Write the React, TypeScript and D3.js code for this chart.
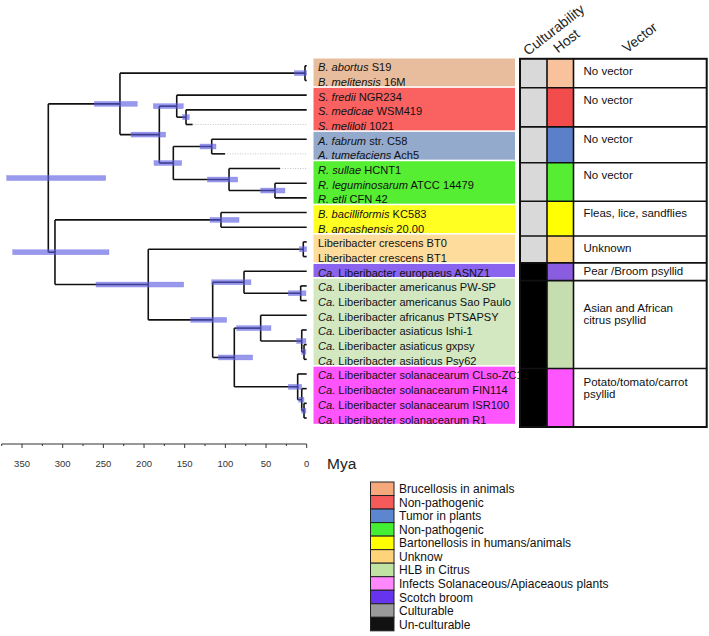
import React from "react";
import * as d3 from "d3";

// ---------- DATA ----------
const leafItalic = [
  "B. abortus", "B. melitensis", "S. fredii", "S. medicae", "S. meliloti",
  "A. fabrum", "A. tumefaciens", "R. sullae", "R. leguminosarum", "R. etli",
  "B. bacilliformis", "B. ancashensis", "", "", "Ca.", "Ca.", "Ca.", "Ca.",
  "Ca.", "Ca.", "Ca.", "Ca.", "Ca.", "Ca.", "Ca.",
];
const leafPlain = [
  " S19", " 16M", " NGR234", " WSM419", " 1021", " str. C58", " Ach5", " HCNT1",
  " ATCC 14479", " CFN 42", " KC583", " 20.00",
  "Liberibacter crescens BT0", "Liberibacter crescens BT1",
  " Liberibacter europaeus ASNZ1", " Liberibacter americanus PW-SP",
  " Liberibacter americanus Sao Paulo", " Liberibacter africanus PTSAPSY",
  " Liberibacter asiaticus Ishi-1", " Liberibacter asiaticus gxpsy",
  " Liberibacter asiaticus Psy62", " Liberibacter solanacearum CLso-ZC1",
  " Liberibacter solanacearum FIN114", " Liberibacter solanacearum ISR100",
  " Liberibacter solanacearum R1",
];
// tip ages (Mya); non-zero tips get a dotted extension
const tipAges = [0, 0, 0, 0, 140.2, 0, 100.5, 32.8, 0, 0, 0, 0, 0, 0, 0, 0, 0, 0, 0, 0, 0, 0, 0, 0, 0];

// internal nodes: id, children (leaf index or node id), age, 95% HPD
const nodeIds = ["root", "A", "Bru", "B", "C", "D", "E", "F", "G", "H", "N2", "Bart", "Lib", "Cres", "CaL", "EuAm", "Am", "AfAsSo", "AfAs", "As", "As2", "So", "So2", "So3"];
const nodeKids: (string | number)[][] = [
  ["A", "N2"], ["Bru", "B"], [0, 1], ["C", "E"], [2, "D"], [3, 4], ["F", "G"], [5, 6], [7, "H"], [8, 9],
  ["Bart", "Lib"], [10, 11], ["Cres", "CaL"], [12, 13], ["EuAm", "AfAsSo"], [14, "Am"], [15, 16],
  ["AfAs", "So"], [17, "As"], [18, "As2"], [19, 20], [21, "So2"], [22, "So3"], [23, 24],
];
const nodeAges = [317.7, 229.6, 2.1, 181.2, 159.8, 148.4, 164, 116.8, 95.5, 39, 309.5, 105.4, 194.8, 4.2, 115.6, 77.1, 7.4, 89, 56.6, 6.1, 3.3, 11.1, 6.1, 3.3];
const hpdLow = [247.1, 208.3, 0, 173.4, 151.7, 144.3, 153.7, 111.5, 84.8, 26.7, 243.1, 83.2, 151.2, 0, 98.4, 68.5, 0.9, 66.4, 43.9, 0.9, 0.9, 6.1, 3.3, 0.9];
const hpdHigh = [368.9, 261.2, 15.2, 216, 188.6, 152.5, 187.8, 131.2, 122.2, 56.6, 361.5, 118.9, 259.1, 9.1, 142.6, 116.8, 22.6, 108.7, 86.1, 12.3, 6.1, 22.6, 9.8, 6.1];

// groups of leaves
const groupFirst = [0, 2, 5, 7, 10, 12, 14, 15, 21];
const groupLast = [1, 4, 6, 9, 11, 13, 14, 20, 24];
const labelColors = ["#e8bd9d", "#fa6262", "#94aacc", "#55ee33", "#ffff22", "#fddc9c", "#8a63ef", "#d3e7c1", "#ff55ff"];
const hostColors = ["#f8c29c", "#f24c4c", "#5b80c9", "#55ee33", "#ffff00", "#fdd07a", "#8a5ce0", "#c6ddb0", "#ff55ff"];
const culturable = [true, true, true, true, true, true, false, false, false];
const vectorText = [
  ["No vector"], ["No vector"], ["No vector"], ["No vector"], ["Fleas, lice, sandflies"],
  ["Unknown"], [" Pear /Broom psyllid"], ["Asian and African", "citrus psyllid"],
  ["Potato/tomato/carrot", "psyllid"],
];
const vectorOffset = [16, 16, 16, 16, 16, 16, 12.5, 31.5, 17.5];
// small manual shifts of table row boundaries (as drawn in the original)
const tableShift = [0, 0, -5, 1.5, -4, 1.5, -1, 2, 1.8];

const columnHeaders = ["Culturability", "Host", "Vector"];

const axisMajor = [350, 300, 250, 200, 150, 100, 50, 0];
const axisMinor = [375, 325, 275, 225, 175, 125, 75, 25];

const legendLabels = [
  "Brucellosis in animals", "Non-pathogenic", "Tumor in plants", "Non-pathogenic",
  "Bartonellosis in humans/animals", "Unknow", "HLB in Citrus",
  "Infects Solanaceous/Apiaceaous plants", "Scotch broom", "Culturable", "Un-culturable",
];
const legendColors = ["#f4a87c", "#f55a5a", "#5c86d0", "#44ee33", "#ffff00", "#ffd37a", "#c0e2a2", "#ff88ff", "#6633ee", "#9a9a9a", "#111111"];

// ---------- LAYOUT ----------
const FONT = "Arial, 'Liberation Sans', sans-serif";
const x = d3.scaleLinear().domain([0, 375]).range([306.7, 1.7]);
const rowY = d3.scaleLinear().domain([0, 24]).range([65.8, 418.0]);

type TNode = { id: string; age: number; lo?: number; hi?: number; leaf?: number; children?: TNode[] };
function build(id: string | number): TNode {
  if (typeof id === "number") return { id: "leaf" + id, age: tipAges[id], leaf: id };
  const k = nodeIds.indexOf(id);
  return { id, age: nodeAges[k], lo: hpdLow[k], hi: hpdHigh[k], children: nodeKids[k].map(build) };
}
const root = d3.hierarchy<TNode>(build("root"));
// midpoint y layout
root.eachAfter((n: any) => {
  if (n.data.leaf !== undefined) n.y0 = rowY(n.data.leaf);
  else {
    const ys = n.children.map((c: any) => c.y0);
    n.y0 = (d3.min(ys)! + d3.max(ys)!) / 2;
  }
});

const tableLeft = 520, col1 = 547, col2 = 573.5, tableRight = 706.7;
const labelLeft = 313.5, labelRight = 515;

function groupTop(g: number) {
  return (g === 0 ? rowY(0) - 7 : (rowY(groupLast[g - 1]) + rowY(groupFirst[g])) / 2) + tableShift[g];
}
function groupBottom(g: number) {
  return g === groupFirst.length - 1 ? rowY(24) + 9 : groupTop(g + 1);
}

export default function App() {
  const nodes = root.descendants() as any[];
  const internal = nodes.filter((n) => n.children);
  const lineColor = "#111";
  return (
    <svg width={709} height={636} style={{ position: "absolute", left: 0, top: 0, background: "#fff" }} fontFamily={FONT}>
      {/* label boxes */}
      {groupFirst.map((f, g) => (
        <rect key={"lb" + g} x={labelLeft} width={labelRight - labelLeft}
          y={rowY(f) - 7.3} height={rowY(groupLast[g]) + 5.8 - (rowY(f) - 7.3)} fill={labelColors[g]} />
      ))}
      {/* tree branches */}
      <g stroke={lineColor} strokeWidth={1.6} fill="none">
        {internal.map((n) => (
          <line key={"v" + n.data.id} x1={x(n.data.age)} x2={x(n.data.age)}
            y1={d3.min(n.children, (c: any) => c.y0)} y2={d3.max(n.children, (c: any) => c.y0)} />
        ))}
        {nodes.filter((n) => n.parent).map((n) => (
          <line key={"h" + n.data.id} x1={x(n.parent.data.age)} x2={x(n.data.age)} y1={n.y0} y2={n.y0} />
        ))}
      </g>
      {/* dotted extensions */}
      {nodes.filter((n) => n.data.leaf !== undefined && n.data.age > 0).map((n) => (
        <line key={"d" + n.data.id} x1={x(n.data.age)} x2={x(0)} y1={n.y0} y2={n.y0}
          stroke="#b8b8b8" strokeWidth={0.8} strokeDasharray="1,1.5" />
      ))}
      {/* HPD bars */}
      {internal.map((n) => (
        <rect key={"b" + n.data.id} x={x(n.data.hi)} width={x(n.data.lo) - x(n.data.hi)}
          y={n.y0 - 2.5} height={5} fill="#5858e0" fillOpacity={0.62} stroke="#7a7ae8" strokeOpacity={0.6} strokeWidth={0.5} />
      ))}
      {/* axis */}
      <g stroke="#333" strokeWidth={1}>
        <line x1={x(375)} x2={x(0)} y1={444} y2={444} />
        {axisMajor.map((v) => <line key={"M" + v} x1={x(v)} x2={x(v)} y1={444} y2={448} />)}
        {axisMinor.map((v) => <line key={"m" + v} x1={x(v)} x2={x(v)} y1={444} y2={446} />)}
      </g>
      {axisMajor.map((v) => (
        <text key={"tl" + v} x={x(v)} y={466.5} fontSize={9.5} textAnchor="middle" fill="#333">{v}</text>
      ))}
      <text x={327} y={468.5} fontSize={15.5} fill="#222">Mya</text>

      {/* table */}
      {groupFirst.map((f, g) => {
        const t = groupTop(g), b = groupBottom(g);
        return (
          <g key={"tr" + g}>
            <rect x={tableLeft} y={t} width={col1 - tableLeft} height={b - t} fill={culturable[g] ? "#d9d9d9" : "#000"} />
            <rect x={col1} y={t} width={col2 - col1} height={b - t} fill={hostColors[g]} />
            {vectorText[g].map((s, j) => (
              <text key={j} x={583.5} y={t + vectorOffset[g] + j * 12.4} fontSize={11.5} fill="#111">{s}</text>
            ))}
          </g>
        );
      })}
      <g stroke="#111" fill="none">
        {groupFirst.slice(1).map((f, g) => (
          <line key={"hl" + g} x1={tableLeft} x2={tableRight} y1={groupTop(g + 1)} y2={groupTop(g + 1)} strokeWidth={1.6} />
        ))}
        <line x1={col1} x2={col1} y1={groupTop(0)} y2={groupBottom(8)} strokeWidth={1.6} />
        <line x1={col2} x2={col2} y1={groupTop(0)} y2={groupBottom(8)} strokeWidth={1.6} />
        <rect x={tableLeft} y={groupTop(0)} width={tableRight - tableLeft} height={groupBottom(8) - groupTop(0)} strokeWidth={2} />
      </g>
      {/* leaf labels (drawn last so the overflowing one shows over the table edge) */}
      {leafPlain.map((p, i) => (
        <text key={"lt" + i} x={318} y={rowY(i) + 5.5} fontSize={11.1} fill="#111">
          {leafItalic[i] && <tspan fontStyle="italic">{leafItalic[i]}</tspan>}
          <tspan>{p}</tspan>
        </text>
      ))}
      {/* column headers */}
      {columnHeaders.map((h, i) => {
        const ax = [528, 558, 627][i], ay = [56, 53.5, 53.5][i];
        return (
          <text key={h} x={ax} y={ay} fontSize={14} fill="#222" transform={`rotate(-38 ${ax} ${ay})`}>{h}</text>
        );
      })}

      {/* legend */}
      {legendLabels.map((l, i) => {
        const cy = 489 + i * 13.53;
        return (
          <g key={"lg" + i}>
            <rect x={370.5} y={cy - 7} width={23.5} height={13.53} fill={legendColors[i]} stroke="#222" strokeWidth={1} />
            <text x={399} y={cy + 4.3} fontSize={12} fill="#111">{l}</text>
          </g>
        );
      })}
    </svg>
  );
}
